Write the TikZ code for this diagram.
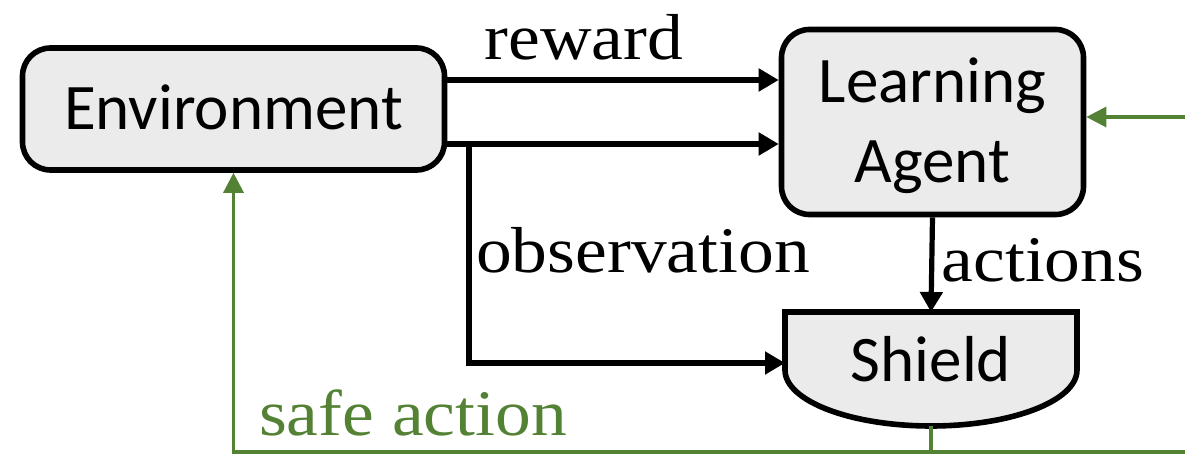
\documentclass[tikz,border=0pt]{standalone}
\usepackage{fontspec}
\setmainfont{Liberation Serif}[FakeStretch=1.1]
\newfontfamily\boxfont{Carlito}
\usetikzlibrary{arrows.meta,calc}
\definecolor{boxgray}{HTML}{EBEBEB}
\definecolor{safegreen}{HTML}{548235}
\tikzset{
  blockbox/.style={draw=black, fill=boxgray, line width=2.8pt, rounded corners=14pt,
    inner sep=0pt, font=\boxfont\fontsize{32.5}{40}\selectfont, align=center},
  shieldshape/.style={draw=black, fill=boxgray, line width=2.8pt},
  blackarrow/.style={draw=black, line width=2.6pt, -{Triangle[length=10pt,width=11pt]}},
  greenline/.style={draw=safegreen, line width=1.6pt},
  greenarrow/.style={greenline, -{Triangle[length=10pt,width=10pt]}},
  lbl/.style={inner sep=0pt, anchor=base, font=\fontsize{32.5}{36}\selectfont},
}
\begin{document}
\begin{tikzpicture}[x=0.5pt,y=-0.5pt]
\clip (0,0) rectangle (1185,454);
% boxes
\node[blockbox, minimum width=211pt, minimum height=61pt] (env) at (233.5,109) {};
\node[inner sep=0pt, anchor=base, font=\boxfont\fontsize{32.5}{40}\selectfont] (envtext) at (233.5,130) {Environment};
\node[blockbox, minimum width=151pt, minimum height=92.5pt] (agent) at (932.5,122) {};
\node[inner sep=0pt, anchor=base, font=\boxfont\fontsize{32.5}{40}\selectfont] (agenttext1) at (932.5,103) {Learning};
\node[inner sep=0pt, anchor=base, font=\boxfont\fontsize{32.5}{40}\selectfont] (agenttext2) at (932.5,183) {Agent};
% shield
\coordinate (shieldNW) at (785,312);
\coordinate (shieldNE) at (1077,312);
\coordinate (shieldSE) at (1077,370);
\coordinate (shieldN) at (931,312);
\coordinate (shieldW) at (785,363);
\coordinate (shieldS) at (931,426);
\path[shieldshape] (shieldNW) -- (shieldNE) -- (shieldSE)
  arc[start angle=0, end angle=-180, x radius=73pt, y radius=28pt] -- cycle;
\node[inner sep=0pt, anchor=base, font=\boxfont\fontsize{32.5}{40}\selectfont] (shield) at (931,382) {Shield};
% helper coordinates
\coordinate (ry) at (0,80);
\coordinate (oy) at (0,144);
\coordinate (gy) at (0,117);
\coordinate (br) at (469,144);
\coordinate (bottomR) at (1200,452);
\coordinate (bottomL) at (233.5,452);
\coordinate (rightTop) at (1200,117);
% black connectors
\draw[blackarrow] (env.east |- ry) -- (agent.west |- ry);
\draw[blackarrow] (env.east |- oy) -- (agent.west |- oy);
\draw[blackarrow] (br) |- (shieldW);
\draw[blackarrow] (agent.south) -- (shieldN);
% green connectors
\draw[greenline] (shieldS) -- (shieldS |- bottomR);
\draw[greenarrow] (bottomR) -- (bottomL) -- (env.south);
\draw[greenarrow] (bottomR) -- (rightTop) -- (agent.east |- gy);
% labels
\node[lbl] (reward) at (584,60) {reward};
\node[lbl] (obs) at (643,273) {observation};
\node[lbl] (actions) at (1043,282) {actions};
\node[lbl, text=safegreen] (safe) at (413,436) {safe action};
\end{tikzpicture}
\end{document}
